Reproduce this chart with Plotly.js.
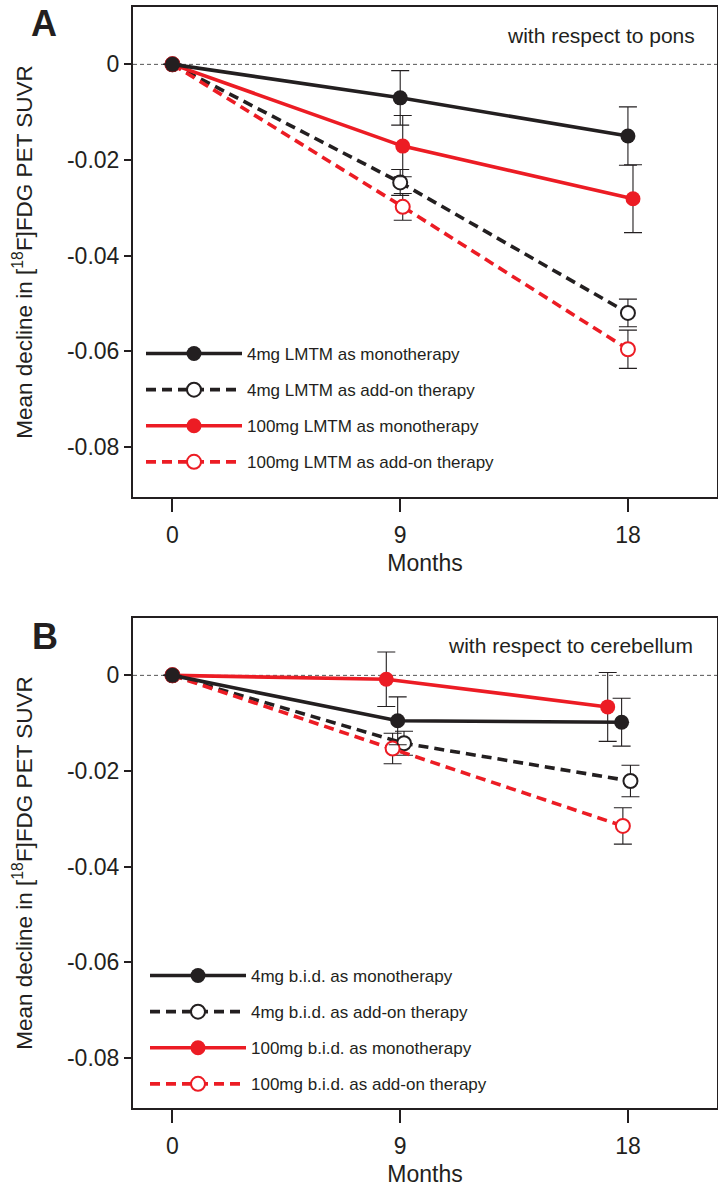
<!DOCTYPE html>
<html><head><meta charset="utf-8">
<script src="https://cdn.plot.ly/plotly-3.0.1.min.js"></script>
<style>html,body{margin:0;padding:0;background:#fff}</style>
</head><body><div id="chart" style="width:718px;height:1191px"></div>
<script>
// ---------- data ----------
const monthTicks = [0, 9, 18];
const yTickVals = [0, -0.02, -0.04, -0.06, -0.08];
const yTickText = ['0', '-0.02', '-0.04', '-0.06', '-0.08'];

// Panel A: with respect to pons
const namesA = ['4mg LMTM as monotherapy', '4mg LMTM as add-on therapy',
                '100mg LMTM as monotherapy', '100mg LMTM as add-on therapy'];
const monthsA_4mgMono   = [0, 9, 18];
const declineA_4mgMono  = [0, -0.0070, -0.0150];
const errA_4mgMono      = [null, 0.0057, 0.0061];
const monthsA_4mgAdd    = [0, 9, 18];
const declineA_4mgAdd   = [0, -0.0247, -0.0520];
const errA_4mgAdd       = [null, 0.0027, 0.0029];
const monthsA_100Mono   = [0, 9.1, 18.2];
const declineA_100Mono  = [0, -0.0171, -0.0281];
const errA_100Mono      = [null, 0.0064, 0.0071];
const monthsA_100Add    = [0, 9.1, 18];
const declineA_100Add   = [0, -0.0298, -0.0596];
const errA_100Add       = [null, 0.0028, 0.0040];

// Panel B: with respect to cerebellum
const namesB = ['4mg b.i.d. as monotherapy', '4mg b.i.d. as add-on therapy',
                '100mg b.i.d. as monotherapy', '100mg b.i.d. as add-on therapy'];
const monthsB_4mgMono   = [0, 8.9, 17.75];
const declineB_4mgMono  = [0, -0.0095, -0.0098];
const errB_4mgMono      = [null, 0.0050, 0.0050];
const monthsB_4mgAdd    = [0, 9.15, 18.1];
const declineB_4mgAdd   = [0, -0.0142, -0.0221];
const errB_4mgAdd       = [null, 0.0025, 0.0033];
const monthsB_100Mono   = [0, 8.45, 17.2];
const declineB_100Mono  = [0, -0.0008, -0.0066];
const errB_100Mono      = [null, 0.0057, 0.0072];
const monthsB_100Add    = [0, 8.7, 17.8];
const declineB_100Add   = [0, -0.0153, -0.0315];
const errB_100Add       = [null, 0.0032, 0.0038];

// ---------- styling ----------
const BLACK = '#231f20';
const RED = '#ec1c24';
const FONT = 'Liberation Sans, Arial, Helvetica, sans-serif';

function mk(x, y, err, name, color, filled, dashed, xa, ya, leg, rank) {
  return {
    type: 'scatter', mode: 'lines+markers',
    x: x, y: y, name: name, xaxis: xa, yaxis: ya, legend: leg, legendrank: rank,
    legendgroup: leg + rank,
    line: {color: color, width: 3.6, dash: dashed ? '10px,6px' : 'solid'},
    marker: {symbol: 'circle', size: filled ? 15 : 14,
             color: filled ? color : '#ffffff',
             line: {color: color, width: filled ? 0 : 2}},
    error_y: {type: 'data', array: err, visible: true, color: BLACK, thickness: 1.1, width: 9},
    cliponaxis: false
  };
}

const data = [
  mk(monthsA_4mgAdd, declineA_4mgAdd, errA_4mgAdd, namesA[1], BLACK, false, true, 'x', 'y', 'legend', 2),
  mk(monthsA_100Add, declineA_100Add, errA_100Add, namesA[3], RED, false, true, 'x', 'y', 'legend', 4),
  mk(monthsA_100Mono, declineA_100Mono, errA_100Mono, namesA[2], RED, true, false, 'x', 'y', 'legend', 3),
  mk(monthsA_4mgMono, declineA_4mgMono, errA_4mgMono, namesA[0], BLACK, true, false, 'x', 'y', 'legend', 1),

  mk(monthsB_4mgAdd, declineB_4mgAdd, errB_4mgAdd, namesB[1], BLACK, false, true, 'x2', 'y2', 'legend2', 2),
  mk(monthsB_100Add, declineB_100Add, errB_100Add, namesB[3], RED, false, true, 'x2', 'y2', 'legend2', 4),
  mk(monthsB_100Mono, declineB_100Mono, errB_100Mono, namesB[2], RED, true, false, 'x2', 'y2', 'legend2', 3),
  mk(monthsB_4mgMono, declineB_4mgMono, errB_4mgMono, namesB[0], BLACK, true, false, 'x2', 'y2', 'legend2', 1)
];

const W = 718, H = 1191;
const xDom = [133 / W, 717 / W];
const yDomA = [1 - 497 / H, 1 - 7 / H];
const yDomB = [1 - 1108 / H, 1 - 618 / H];
const xRange = [-1.56, 21.52];
const yRange = [-0.0905, 0.0120];

function xAxis(anchor) {
  return {
    domain: xDom, anchor: anchor, range: xRange, tickvals: monthTicks,
    ticktext: monthTicks.map(String),
    ticks: 'outside', ticklen: 13, tickwidth: 2, tickcolor: BLACK,
    ticklabelstandoff: 3,
    showline: true, linecolor: BLACK, linewidth: 2, mirror: true,
    showgrid: false, zeroline: false,
    tickfont: {family: FONT, size: 23, color: BLACK},
    title: {text: 'Months', font: {family: FONT, size: 23, color: BLACK}, standoff: 8}
  };
}
function yAxis(anchor) {
  return {
    domain: null, anchor: anchor, range: yRange, tickvals: yTickVals, ticktext: yTickText,
    ticks: 'outside', ticklen: 7, tickwidth: 2, tickcolor: BLACK,
    showline: true, linecolor: BLACK, linewidth: 2, mirror: true,
    showgrid: false, zeroline: false,
    tickfont: {family: FONT, size: 23, color: BLACK},
    title: {text: 'Mean decline in [<sup>18</sup>F]FDG PET SUVR',
            font: {family: FONT, size: 22.5, color: BLACK}, standoff: 28}
  };
}
function yInner(over, anchor, dom) {
  return {
    overlaying: over, anchor: anchor, side: 'right', domain: dom, range: yRange,
    tickvals: yTickVals, ticks: 'inside', ticklen: 5, tickwidth: 2, tickcolor: BLACK,
    showticklabels: false, showline: false, showgrid: false, zeroline: false
  };
}

const ya = yAxis('x'); ya.domain = yDomA;
const yb = yAxis('x2'); yb.domain = yDomB;

const legendBase = {
  font: {family: FONT, size: 17, color: BLACK},
  bgcolor: 'rgba(0,0,0,0)', borderwidth: 0,
  traceorder: 'grouped', tracegroupgap: 11, itemwidth: 96,
  xanchor: 'left', yanchor: 'top'
};

const layout = {
  width: W, height: H,
  margin: {l: 0, r: 0, t: 0, b: 0},
  paper_bgcolor: '#ffffff', plot_bgcolor: '#ffffff',
  font: {family: FONT, color: BLACK},
  xaxis: xAxis('y'),
  yaxis: ya,
  xaxis2: xAxis('y2'),
  yaxis2: yb,
  yaxis3: yInner('y', 'x', yDomA),
  yaxis4: yInner('y2', 'x2', yDomB),
  legend: Object.assign({}, legendBase, {x: 141 / W, y: 1 - 336 / H}),
  legend2: Object.assign({}, legendBase, {x: 145 / W, y: 1 - 958 / H}),
  shapes: [
    {type: 'line', xref: 'x domain', yref: 'y', x0: 0, x1: 1, y0: 0, y1: 0,
     line: {color: '#555', width: 1, dash: '4px,3px'}, layer: 'below'},
    {type: 'line', xref: 'x2 domain', yref: 'y2', x0: 0, x1: 1, y0: 0, y1: 0,
     line: {color: '#555', width: 1, dash: '4px,3px'}, layer: 'below'}
  ],
  annotations: [
    {text: '<b>A</b>', xref: 'paper', yref: 'paper', x: 44 / W, y: 1 - 23 / H,
     xanchor: 'center', yanchor: 'middle',
     showarrow: false, font: {family: FONT, size: 36, color: BLACK}},
    {text: '<b>B</b>', xref: 'paper', yref: 'paper', x: 45 / W, y: 1 - 636 / H,
     xanchor: 'center', yanchor: 'middle',
     showarrow: false, font: {family: FONT, size: 36, color: BLACK}},
    {text: 'with respect to pons', xref: 'paper', yref: 'paper', x: 697 / W, y: 1 - 36 / H,
     xanchor: 'right', yanchor: 'middle', showarrow: false,
     font: {family: FONT, size: 21, color: BLACK}},
    {text: 'with respect to cerebellum', xref: 'paper', yref: 'paper', x: 695 / W, y: 1 - 645 / H,
     xanchor: 'right', yanchor: 'middle', showarrow: false,
     font: {family: FONT, size: 21, color: BLACK}}
  ],
  showlegend: true
};

Plotly.newPlot('chart', data, layout, {staticPlot: true, displayModeBar: false});
</script>
</body></html>
